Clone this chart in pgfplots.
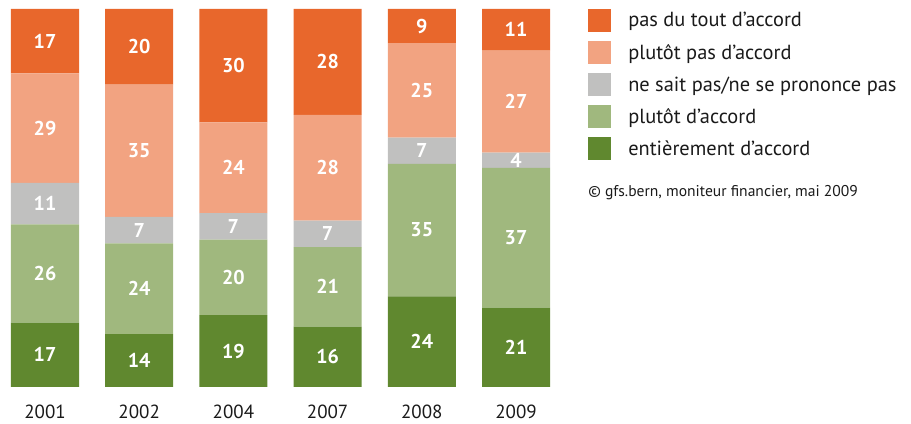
\documentclass[border=0pt]{standalone}
\usepackage{fontspec}
\setmainfont{PT Sans}
\usepackage{pgfplots}
\pgfplotsset{compat=1.18}
\newlength\px
\setlength\px{0.75pt}
\definecolor{cDark}{HTML}{E8672C}
\definecolor{cLight}{HTML}{F2A381}
\definecolor{cGray}{HTML}{C0C0BF}
\definecolor{gLight}{HTML}{A0B87E}
\definecolor{gDark}{HTML}{60882F}
\definecolor{txt}{HTML}{1A1A1A}
\pgfplotsset{
  legsq/.style={legend image code/.code={\fill[##1] (0pt,-11.5\px) rectangle (23\px,11.5\px);}},
}
\begin{document}
\begin{tikzpicture}
\begin{axis}[
  width=560\px, height=378\px, scale only axis, clip=false,
  xmin=-0.4777, xmax=5.467, ymin=0, ymax=100,
  ybar stacked, bar width=0.722,
  axis line style={draw=none}, major tick length=0pt,
  ytick=\empty, xtick={0,...,5},
  xticklabels={2001,2002,2004,2007,2008,2009},
  xticklabel style={font=\fontsize{19\px}{22\px}\selectfont, text=txt, inner sep=0pt, anchor=north, yshift=-18\px},
  /pgf/number format/assume math mode=true,
  point meta=rawy, nodes near coords,
  every node near coord/.append style={anchor=center,
    font=\fontsize{20\px}{22\px}\selectfont\bfseries, text=white},
  reverse legend, legend cell align=left,
  legend style={at={(rel axis cs:1.05,1)}, anchor=north west, draw=none, fill=none,
    inner sep=0pt, row sep=9\px, column sep=17\px,
    nodes={inner sep=0pt}, font=\fontsize{20.4\px}{22\px}\selectfont, text=txt},
]
\addplot[fill=gDark, draw=none, legsq] coordinates {(0,17) (1,14) (2,19) (3,16) (4,24) (5,21)};
\addlegendentry{entièrement d’accord}
\addplot[fill=gLight, draw=none, legsq] coordinates {(0,26) (1,24) (2,20) (3,21) (4,35) (5,37)};
\addlegendentry{plutôt d’accord}
\addplot[fill=cGray, draw=none, legsq] coordinates {(0,11) (1,7) (2,7) (3,7) (4,7) (5,4)};
\addlegendentry{ne sait pas/ne se prononce pas}
\addplot[fill=cLight, draw=none, legsq] coordinates {(0,29) (1,35) (2,24) (3,28) (4,25) (5,27)};
\addlegendentry{plutôt pas d’accord}
\addplot[fill=cDark, draw=none, legsq] coordinates {(0,17) (1,20) (2,30) (3,28) (4,9) (5,11)};
\addlegendentry{pas du tout d’accord}
\node[anchor=west, inner sep=0pt, text=txt, font=\fontsize{15.6\px}{17\px}\selectfont]
  at (rel axis cs:1.05,0.513) {© gfs.bern, moniteur financier, mai 2009};
\end{axis}
\pgfresetboundingbox
\path (0,-37\px) rectangle (911\px,387\px);
\end{tikzpicture}
\end{document}
